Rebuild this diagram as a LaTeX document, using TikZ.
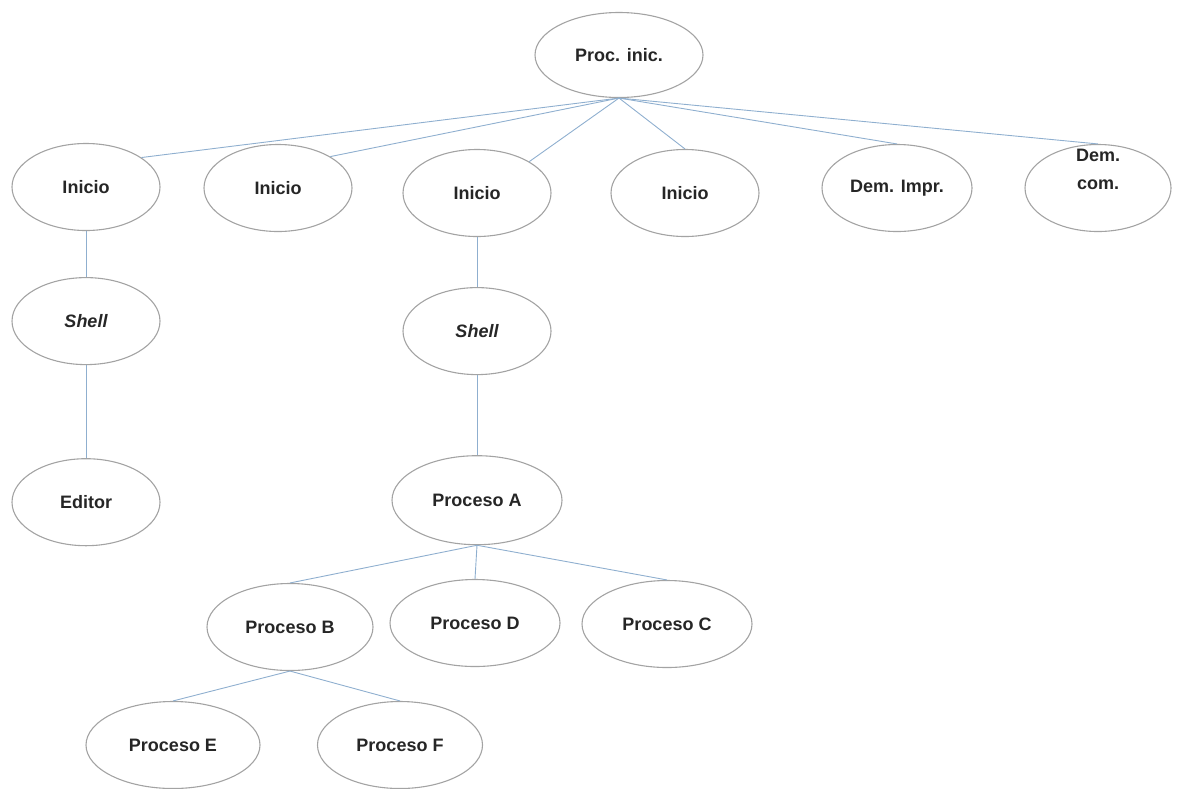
\documentclass[tikz,border=0pt]{standalone}
\usepackage{fontspec}
\setmainfont{Liberation Sans}
\usetikzlibrary{shapes.geometric, positioning}
\definecolor{edgeblue}{HTML}{8FAFCF}
\definecolor{rimgray}{HTML}{A3A3A3}
\definecolor{txtgray}{HTML}{262626}

\begin{document}
\begin{tikzpicture}
	[x=1pt, y=-1pt,
	proc/.style={ellipse, draw=rimgray, line width=1.1pt, minimum width=148pt, minimum height=87pt, inner sep=0pt, text=txtgray, font=\fontsize{18}{21}\selectfont\bfseries},
	wide/.style={proc, minimum width=170pt},
	link/.style={draw=edgeblue, line width=0.9pt}]
	\useasboundingbox (0,0) rectangle (1177,788);
	% nodes %
	\node[proc, minimum width=168pt, minimum height=85pt] (pinic) at (619,55) {Proc. inic.};
	\node[proc] (ini1) at (86,187) {Inicio};
	\node[proc] (ini2) at (278,188) {Inicio};
	\node[proc] (ini3) at (477,193) {Inicio};
	\node[proc] (ini4) at (685,193) {Inicio};
	\node[proc, minimum width=150pt] (dimp) at (897,188) {Dem. Impr.};
	\node[proc, minimum width=146pt] (dcom) at (1098,188) {};
	\node[text=txtgray, align=center, font=\fontsize{18}{28}\selectfont\bfseries] (dcomtxt) at ([yshift=19pt]dcom.center) {Dem.\\com.};
	\node[proc, below=46pt of ini1] (shell1) {\itshape Shell};
	\node[proc, below=93pt of shell1] (editor) {Editor};
	\node[proc, below=50pt of ini3] (shell2) {\itshape Shell};
	\node[wide, minimum height=89pt, below=80pt of shell2] (pa) {Proceso A};
	\node[wide, minimum width=166pt] (pb) at (290,627) {Proceso B};
	\node[wide] (pd) at (475,623) {Proceso D};
	\node[wide] (pc) at (667,624) {Proceso C};
	\node[wide, minimum width=174pt] (pe) at (173,745) {Proceso E};
	\node[wide, minimum width=165pt] (pf) at (400,745) {Proceso F};

	% edges %
	\draw[link] (pinic.south) -- (ini1.28);
	\draw[link] (pinic.south) -- (ini2.31);
	\draw[link] (pinic.south) -- (ini3.31);
	\draw[link] (pinic.south) -- (ini4.north);
	\draw[link] (pinic.south) -- (dimp.north);
	\draw[link] (pinic.south) -- (dcom.north);
	\draw[link] (ini1) -- (shell1);
	\draw[link] (shell1) -- (editor);
	\draw[link] (ini3) -- (shell2);
	\draw[link] (shell2) -- (pa);
	\draw[link] (pa.south) -- (pb.north);
	\draw[link] (pa.south) -- (pd.north);
	\draw[link] (pa.south) -- (pc.north);
	\draw[link] (pb.south) -- (pe.north);
	\draw[link] (pb.south) -- (pf.north);
\end{tikzpicture}
\end{document}
